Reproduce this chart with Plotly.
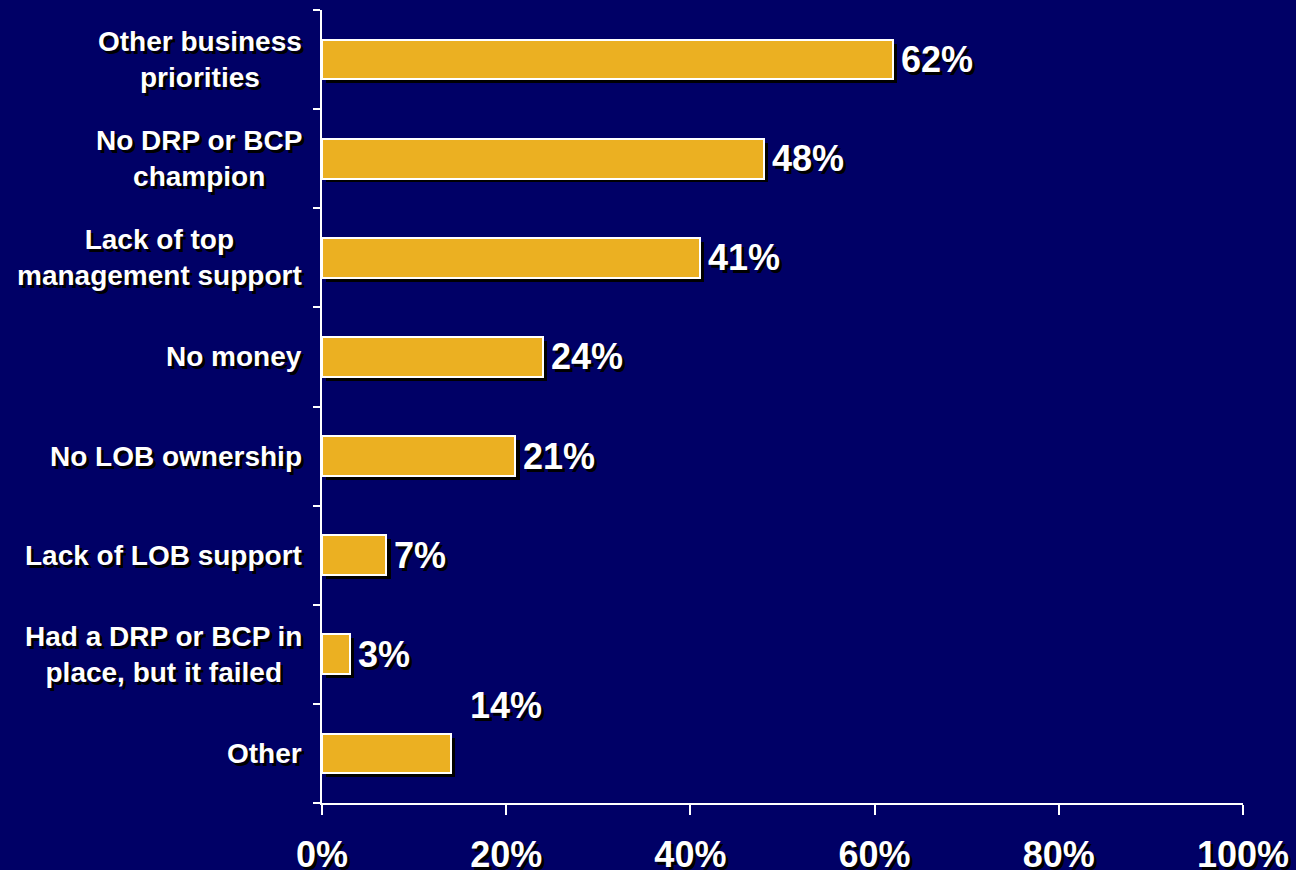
import plotly.graph_objects as go

categories = [
    "Other business<br>priorities",
    "No DRP or BCP<br>champion",
    "Lack of top<br>management support",
    "No money",
    "No LOB ownership",
    "Lack of LOB support",
    "Had a DRP or BCP in<br>place, but it failed",
    "Other",
]
values = [62, 48, 41, 24, 21, 7, 3, 14]
x_ticks = [0, 20, 40, 60, 80, 100]

BG = "#000066"
GOLD = "#EBB022"
SHADOW = "3px 3px 0px #000000"
FONT = "Liberation Sans, Arial, sans-serif"

keys = list(range(len(categories)))
bar_w = 0.4

fig = go.Figure()

# drop shadow behind each bar
fig.add_trace(go.Bar(
    y=keys, x=values, base=0.45, orientation="h",
    width=bar_w, offset=-bar_w / 2 + 0.04,
    marker=dict(color="black", line=dict(width=0)),
    hoverinfo="skip", showlegend=False,
))
# main bars
fig.add_trace(go.Bar(
    y=keys, x=values, orientation="h",
    width=bar_w, offset=-bar_w / 2,
    marker=dict(color=GOLD, line=dict(color="white", width=2)),
    showlegend=False,
))

annotations = []
for i, (cat, v) in enumerate(zip(categories, values)):
    annotations.append(dict(
        x=0, xref="paper", y=i, yref="y", text=cat, showarrow=False,
        xanchor="right", align="center", xshift=-18,
        font=dict(family=FONT, size=28, color="white", weight="bold", shadow=SHADOW),
    ))
    last = i == len(categories) - 1
    annotations.append(dict(
        x=v, xref="x", y=i, yref="y", text=f"{v}%", showarrow=False,
        xanchor="left", xshift=17 if last else 6, yshift=48 if last else 0,
        font=dict(family=FONT, size=36, color="white", weight="bold", shadow=SHADOW),
    ))

# shadow of the value axis line
shapes = [
    dict(type="line", xref="paper", yref="paper", x0=0, x1=1, y0=0, y1=0,
         ysizemode="pixel", yanchor=0, line=dict(color="black", width=2), layer="below"),
]

fig.update_layout(
    width=1296, height=870,
    paper_bgcolor=BG, plot_bgcolor=BG,
    margin=dict(l=322, r=53, t=10, b=67),
    barmode="overlay",
    bargap=0,
    annotations=annotations,
    xaxis=dict(
        range=[0, 100], tickvals=x_ticks, ticktext=[f"{t}%" for t in x_ticks],
        showgrid=False, zeroline=False, automargin=False,
        showline=True, linecolor="white", linewidth=2,
        ticks="outside", ticklen=10, tickwidth=2, tickcolor="white",
        ticklabelstandoff=9,
        tickfont=dict(family=FONT, size=36, color="white", weight="bold", shadow=SHADOW),
        fixedrange=True,
    ),
    yaxis=dict(
        type="linear", range=[len(categories) - 0.5, -0.5],
        tickvals=[k - 0.5 for k in range(len(categories) + 1)],
        showticklabels=False, showgrid=False, zeroline=False, automargin=False,
        showline=True, linecolor="white", linewidth=2,
        ticks="outside", ticklen=7, tickwidth=2, tickcolor="white",
        fixedrange=True,
    ),
)

fig.write_html("out.html")
